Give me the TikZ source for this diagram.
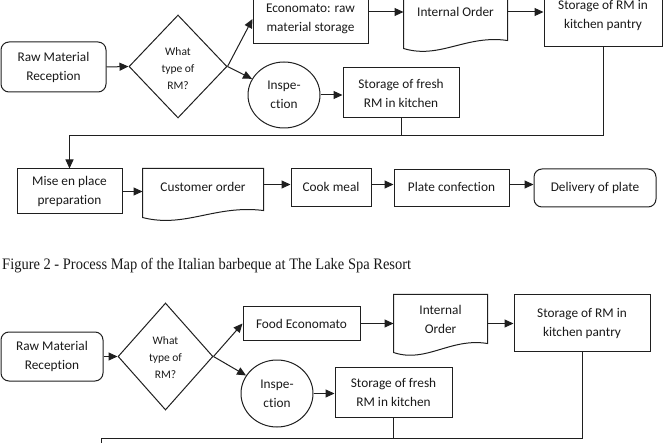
\documentclass[tikz,border=0pt]{standalone}
\usepackage{graphicx}
\usepackage{fontspec}
\setmainfont{Carlito}[Ligatures=NoCommon]
\newfontfamily\capfont{Liberation Serif}
\usetikzlibrary{shapes.geometric,arrows.meta,calc}
\definecolor{linecol}{gray}{0.12}
\tikzset{
 base/.style={draw=linecol, line width=1pt, inner sep=0pt, align=center, text=black!90, font=\fontsize{13.3}{19}\selectfont},
 box/.style={base, rectangle},
 rbox/.style={base, rectangle, rounded corners=8pt},
 docbody/.style={base, rectangle, draw=none},
 decision/.style={diamond, draw=linecol, line width=1pt, inner sep=0pt},
 dtext/.style={align=center, inner sep=0pt, text=black!90, font=\fontsize{11.5}{17}\selectfont},
 circ/.style={base, ellipse},
 arr/.style={draw=linecol, line width=1pt, -{Triangle[length=9pt,width=8pt]}},
 ln/.style={draw=linecol, line width=1pt},
}
\newcommand\docshape[2]{%
  \draw[ln] (#1.south east) -- (#1.north east) -- (#1.north west) -- ($(#1.south west)+(0,#2)$)
   .. controls ($(#1.south west)!0.35!(#1.south east)+(0,#2+11)$) and ($(#1.south west)!0.6!(#1.south east)+(0,-6)$) .. (#1.south east) -- cycle;}
\begin{document}
\begin{tikzpicture}[x=1pt,y=-1pt]
\useasboundingbox (0,0) rectangle (666,443);
\clip (0,0) rectangle (666,443);

% ---------- top diagram ----------
\node[rbox, minimum width=105pt, minimum height=50pt] (rmr1) at (53.5,67) {Raw Material\\Reception};
\node[decision, minimum width=98pt, minimum height=103pt] (dia1) at (178,66.5) {};
\node[dtext] (dia1t) at (178,69) {What\\type of\\RM?};
\node[box, minimum width=115pt, minimum height=50pt] (eco1) at (310.5,19) {Economato: raw\\material storage};
\node[circ, minimum width=72pt, minimum height=66pt] (insp1) at (284,95) {Inspe-\\ction};
\node[box, minimum width=116pt, minimum height=50pt] (fresh1) at (401,93) {Storage of fresh\\RM in kitchen};
\node[docbody, minimum width=103pt, minimum height=52pt] (io1) at (455.5,14) {\raisebox{5pt}{Internal Order}};
\docshape{io1}{8}
\node[box, minimum width=118pt, minimum height=62pt] (pan1) at (603,16) {Storage of RM in\\kitchen pantry};

\node[box, minimum width=105pt, minimum height=45pt] (mise) at (69.5,191.5) {Mise en place\\preparation};
\node[docbody, minimum width=120pt, minimum height=41pt] (cust) at (203,189.5) {\raisebox{5pt}{Customer order}};
\docshape{cust}{7}
\node[box, minimum width=80pt, minimum height=38pt] (cook) at (331,188) {\raisebox{3pt}{Cook meal}};
\node[box, minimum width=115pt, minimum height=37pt] (plate) at (451.5,188.5) {\raisebox{3pt}{Plate confection}};
\node[rbox, minimum width=122pt, minimum height=38pt] (deliv) at (595,188) {\raisebox{3pt}{Delivery of plate}};

\draw[arr] (rmr1.east) -- (dia1.west);
\draw[arr] (dia1.east) -- (eco1.west);
\draw[arr] (dia1.east) -- (insp1);
\draw[arr] (insp1.east) -- (fresh1.west |- insp1.east);
\coordinate (r1) at (0,12);
\draw[arr] (eco1.east |- r1) -- (io1.west |- r1);
\draw[arr] (io1.east |- r1) -- (pan1.west |- r1);
\coordinate (bus1) at (69.5,136);
\draw[arr] (pan1.south) |- (bus1) -- (mise.north);
\draw[ln] (fresh1.south) -- (fresh1.south |- bus1);
\draw[arr] (mise.east) -- (cust.west |- mise.east);
\coordinate (r2) at (0,184.5);
\draw[arr] (cust.east |- r2) -- (cook.west |- r2);
\draw[arr] (cook.east |- r2) -- (plate.west |- r2);
\draw[arr] (plate.east |- r2) -- (deliv.west |- r2);

% ---------- caption ----------
\node[anchor=base west, inner sep=0pt, text=black!90, font=\capfont\fontsize{16}{19}\selectfont] (cap) at (2,270)
  {\scalebox{0.905}[1]{Figure 2 - Process Map of the Italian barbeque at The Lake Spa Resort}};

% ---------- bottom diagram ----------
\node[rbox, minimum width=102pt, minimum height=49pt] (rmr2) at (52,356.5) {Raw Material\\Reception};
\node[decision, minimum width=95pt, minimum height=107pt] (dia2) at (165.5,356.5) {};
\node[dtext] (dia2t) at (165.5,358) {What\\type of\\RM?};
\node[box, minimum width=117pt, minimum height=33pt] (food) at (301.5,323.5) {Food Economato};
\node[circ, minimum width=72pt, minimum height=67pt] (insp2) at (277,393.5) {Inspe-\\ction};
\node[box, minimum width=117pt, minimum height=50pt] (fresh2) at (393.5,392) {Storage of fresh\\RM in kitchen};
\node[docbody, minimum width=93pt, minimum height=48pt] (io2) at (440.5,319) {Internal\\Order};
\docshape{io2}{9}
\node[box, minimum width=136pt, minimum height=56pt] (pan2) at (582,323) {Storage of RM in\\kitchen pantry};

\draw[arr] (rmr2.east) -- (dia2.west);
\draw[arr] (dia2.east) -- (food.west);
\draw[arr] (dia2.east) -- (insp2);
\draw[arr] (insp2.east) -- (fresh2.west |- insp2.east);
\draw[arr] (food.east) -- (io2.west |- food.east);
\draw[arr] (io2.east |- food.east) -- (pan2.west |- food.east);
\coordinate (bus2) at (101,438);
\coordinate (end2) at (101,460);
\draw[ln] (pan2.south) |- (bus2) -- (end2);
\draw[ln] (fresh2.south) -- (fresh2.south |- bus2);
\end{tikzpicture}
\end{document}
